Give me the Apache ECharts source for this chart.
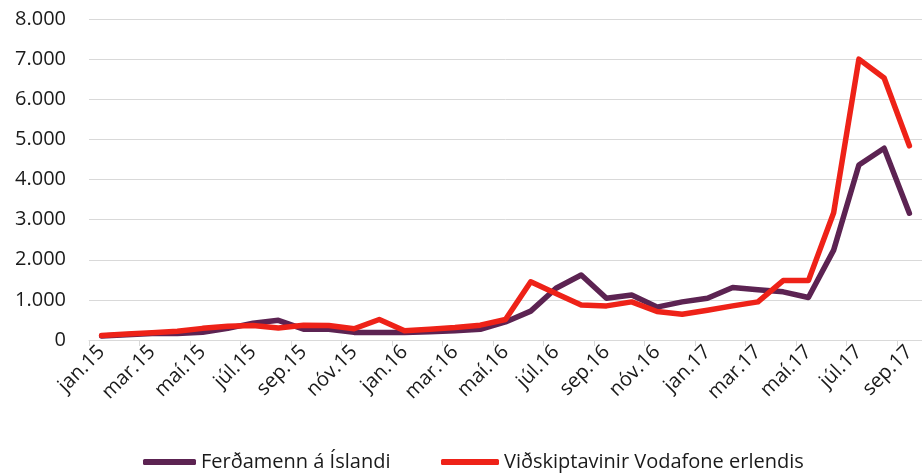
<!DOCTYPE html>
<html>
<head>
<meta charset="utf-8">
<title>Ferðamenn og Vodafone</title>
<script src="https://cdn.jsdelivr.net/npm/echarts@6/dist/echarts.min.js"></script>
<style>
  html, body { margin: 0; padding: 0; background: #fff; }
  #chart { width: 922px; height: 474px; }
</style>
</head>
<body>
<div id="chart"></div>
<script>
  // manuðir, jan.15 - sep.17
  var months = [
    'jan.15', 'feb.15', 'mar.15', 'apr.15', 'maí.15', 'jún.15', 'júl.15', 'ágú.15', 'sep.15', 'okt.15', 'nóv.15', 'des.15',
    'jan.16', 'feb.16', 'mar.16', 'apr.16', 'maí.16', 'jún.16', 'júl.16', 'ágú.16', 'sep.16', 'okt.16', 'nóv.16', 'des.16',
    'jan.17', 'feb.17', 'mar.17', 'apr.17', 'maí.17', 'jún.17', 'júl.17', 'ágú.17', 'sep.17'
  ];
  var ferdamenn = [
    100, 130, 160, 160, 190, 290, 420, 490, 270, 265, 190, 190,
    185, 205, 230, 265, 450, 720, 1290, 1620, 1040, 1120, 820, 950,
    1040, 1310, 1250, 1200, 1060, 2240, 4360, 4780, 3160
  ];
  var vodafone = [
    110, 150, 180, 220, 290, 340, 360, 300, 370, 360, 280, 510,
    230, 265, 310, 370, 510, 1450, 1160, 870, 850, 950, 710, 640,
    740, 850, 950, 1480, 1480, 3170, 7000, 6530, 4840
  ];
  var seriesNames = ['Ferðamenn á Íslandi', 'Viðskiptavinir Vodafone erlendis'];

  var font = '"Open Sans", "Noto Sans", sans-serif';
  var chart = echarts.init(document.getElementById('chart'));
  chart.setOption({
    animation: false,
    textStyle: { fontFamily: font },
    grid: { left: 89, right: -4, top: 19, bottom: 134 },
    legend: [
      {
        data: [seriesNames[0]],
        left: 143, top: 452, padding: 0,
        icon: 'roundRect', itemWidth: 53, itemHeight: 6, itemGap: 5,
        textStyle: { fontSize: 20, color: '#1a1a1a', fontFamily: font }
      },
      {
        data: [seriesNames[1]],
        left: 441, top: 452, padding: 0,
        icon: 'roundRect', itemWidth: 58, itemHeight: 6, itemGap: 5,
        textStyle: { fontSize: 20, color: '#1a1a1a', fontFamily: font }
      }
    ],
    xAxis: {
      type: 'category',
      data: months,
      boundaryGap: true,
      axisLine: { lineStyle: { color: '#d9d9d9', width: 1 } },
      axisTick: { show: true, interval: 1, length: 6, lineStyle: { color: '#d9d9d9' } },
      axisLabel: {
        interval: 1, rotate: 45, margin: 9,
        fontSize: 20, color: '#1a1a1a', fontFamily: font
      }
    },
    yAxis: {
      type: 'value',
      min: 0, max: 8000, interval: 1000,
      axisLine: { show: false },
      axisTick: { show: false },
      splitLine: { lineStyle: { color: '#d9d9d9', width: 1 } },
      axisLabel: {
        margin: 23, fontSize: 20, color: '#1a1a1a', fontFamily: font,
        formatter: function (v) {
          return String(v).replace(/\B(?=(\d{3})+(?!\d))/g, '.');
        }
      }
    },
    series: [
      {
        name: seriesNames[0],
        type: 'line',
        data: ferdamenn,
        showSymbol: false,
        color: '#5c2352',
        lineStyle: { width: 5.5, cap: 'round', join: 'round' }
      },
      {
        name: seriesNames[1],
        type: 'line',
        data: vodafone,
        showSymbol: false,
        color: '#ee2218',
        lineStyle: { width: 5.5, cap: 'round', join: 'round' }
      }
    ]
  });
</script>
</body>
</html>
